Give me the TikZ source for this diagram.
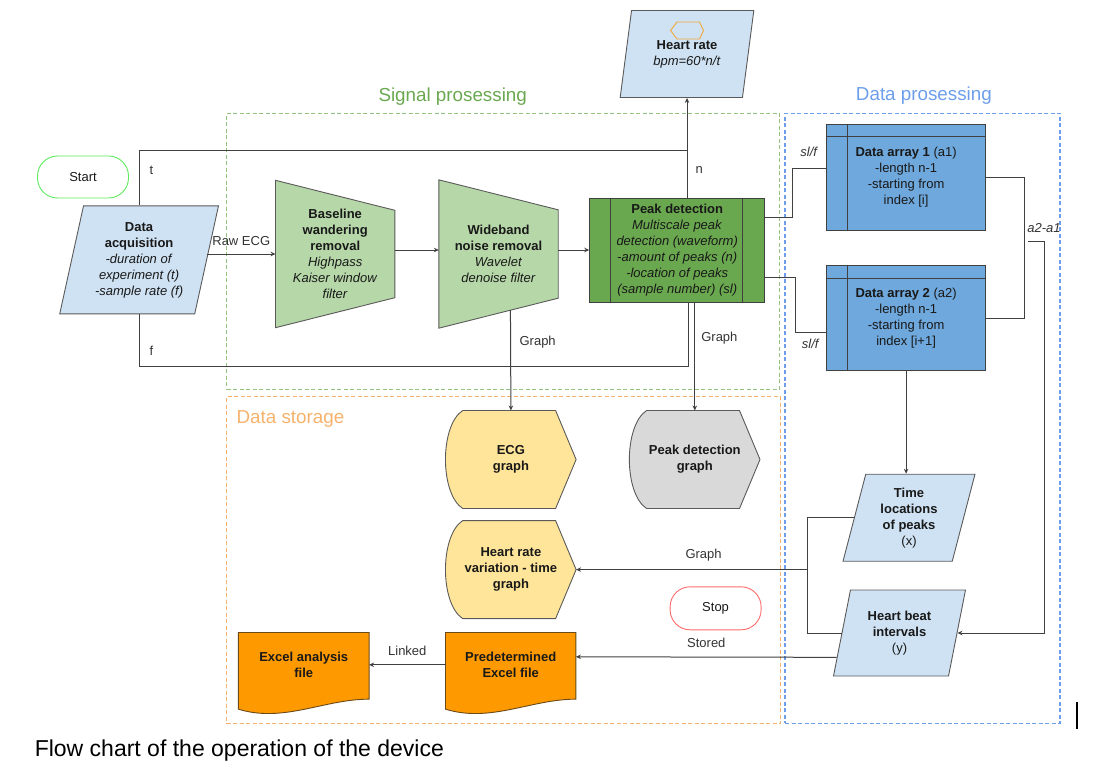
\documentclass[tikz,border=0pt]{standalone}
\usepackage{fontspec}
\setmainfont{Liberation Sans}
\usetikzlibrary{shapes.geometric,arrows.meta,calc,backgrounds}

\definecolor{lineg}{HTML}{404040}
\definecolor{shapeg}{HTML}{5A5A5A}
\definecolor{inblue}{HTML}{CFE2F3}
\definecolor{filtgreen}{HTML}{B6D7A8}
\definecolor{peakgreen}{HTML}{6AA84F}
\definecolor{arrblue}{HTML}{6FA8DC}
\definecolor{graphyel}{HTML}{FFE599}
\definecolor{graphgray}{HTML}{D9D9D9}
\definecolor{xlorange}{HTML}{FF9900}
\definecolor{xlline}{HTML}{6B4A1A}
\definecolor{sigcol}{HTML}{93C47D}
\definecolor{datcol}{HTML}{6D9EEB}
\definecolor{stocol}{HTML}{F6B26B}
\definecolor{hexorange}{HTML}{F1A93A}
\definecolor{startgreen}{HTML}{5EEB5E}
\definecolor{stopred}{HTML}{FF6B6B}

\tikzset{
  txt/.style={font=\fontsize{13pt}{16pt}\selectfont, text=black!90, align=center},
  io/.style={txt, trapezium, trapezium stretches=true, trapezium left angle=76, trapezium right angle=104,
    draw=shapeg, fill=inblue, line width=0.9pt, inner sep=0pt},
  procbox/.style={txt, rectangle, inner sep=0pt},
  term/.style={txt, rectangle, rounded corners=20pt, draw, line width=0.9pt, minimum width=91pt, minimum height=42pt},
  group/.style={rectangle, draw, dash pattern=on 4pt off 2.5pt, line width=1.1pt},
  grouptitle/.style={font=\fontsize{18.8pt}{22pt}\selectfont, inner sep=0pt},
  lbl/.style={txt, text=black!80, inner sep=1pt},
  conn/.style={draw=lineg, line width=1pt},
  arr/.style={conn, -{Stealth[length=5pt,width=4.5pt]}},
  shapeline/.style={draw=shapeg, line width=0.9pt},
}

\begin{document}
\begin{tikzpicture}[x=1pt,y=-1pt]
    \useasboundingbox (0,0) rectangle (1095,776);

    % groups
    \node[group, draw=sigcol, minimum width=553pt, minimum height=276pt] (sig) at (503.4,251.2) {};
    \node[group, draw=datcol, minimum width=275pt, minimum height=610pt] (dat) at (922.5,418.2) {};
    \node[group, draw=stocol, minimum width=554pt, minimum height=327pt] (sto) at (503.6,560) {};
    \node[grouptitle, text=peakgreen] (sigtitle) at (452.7,96.7) {Signal prosessing};
    \node[grouptitle, text=datcol] (dattitle) at (923.9,95.7) {Data prosessing};
    \node[grouptitle, text=stocol, anchor=west] (stotitle) at (236.4,419.3) {Data storage};

    \node[term, draw=startgreen] (start) at (83,177) {Start};
    \node[term, draw=stopred, minimum height=43pt] (stop) at (715.6,608.3) {Stop};

    \node[io, minimum width=159pt, minimum height=108pt] (acq) at (139.1,259.9)
        {\textbf{Data}\\\textbf{acquisition}\\\textit{-duration of}\\\textit{experiment (t)}\\\textit{-sample rate (f)}};
    \node[io, minimum width=134pt, minimum height=87pt] (hr) at (687,54)
        {\textbf{Heart rate}\\\textit{bpm=60*n/t}};
    \node[io, minimum width=133pt, minimum height=87pt] (tl) at (909,517.7)
        {\textbf{Time}\\\textbf{locations}\\\textbf{of peaks}\\(x)};
    \node[io, minimum width=133pt, minimum height=86pt] (hb) at (899.5,633)
        {\textbf{Heart beat}\\\textbf{intervals}\\(y)};

    \node[procbox, minimum width=119pt, minimum height=147pt] (bw) at (335.2,254)
        {\textbf{Baseline}\\\textbf{wandering}\\\textbf{removal}\\\textit{Highpass}\\\textit{Kaiser window}\\\textit{filter}};
    \node[procbox, minimum width=119pt, minimum height=148pt] (wb) at (498.5,254)
        {\textbf{Wideband}\\\textbf{noise removal}\\\textit{Wavelet}\\\textit{denoise filter}};
    \node[procbox, draw=lineg, fill=peakgreen, line width=0.9pt, minimum width=175pt, minimum height=104pt] (pk) at (677.2,250)
        {\textbf{Peak detection}\\\textit{Multiscale peak}\\\textit{detection (waveform)}\\\textit{-amount of peaks (n)}\\\textit{-location of peaks}\\\textit{(sample number) (sl)}};

    \node[procbox, draw=lineg, fill=arrblue, line width=0.9pt, minimum width=158.6pt, minimum height=105.7pt] (da1) at (906.1,177.2)
        {\textbf{Data array 1} (a1)\\-length n-1\\-starting from\\index [i]};
    \node[procbox, draw=lineg, fill=arrblue, line width=0.9pt, minimum width=158.6pt, minimum height=105pt] (da2) at (906.1,318.2)
        {\textbf{Data array 2} (a2)\\-length n-1\\-starting from\\index [i+1]};

    \node[procbox, minimum width=130pt, minimum height=97.6pt] (ecg) at (510.9,459.5) {\textbf{ECG}\\\textbf{graph}};
    \node[procbox, minimum width=130pt, minimum height=97.6pt] (pkg) at (694.8,459.5) {\textbf{Peak detection}\\\textbf{graph}};
    \node[procbox, minimum width=130pt, minimum height=97.6pt] (hrv) at (510.9,569.6) {\textbf{Heart rate}\\\textbf{variation - time}\\\textbf{graph}};

    \node[procbox, minimum width=130.3pt, minimum height=64.3pt] (xla) at (303.75,664.8) {\textbf{Excel analysis}\\\textbf{file}};
    \node[procbox, minimum width=130pt, minimum height=64.3pt] (xlp) at (510.7,664.8) {\textbf{Predetermined}\\\textbf{Excel file}};

    \begin{scope}[on background layer]
        \foreach \shp in {bw,wb}
            \draw[shapeline, fill=filtgreen] (\shp.north west) -- ($(\shp.north east)+(0,30)$)
                -- ($(\shp.south east)+(0,-30)$) -- (\shp.south west) -- cycle;
        \foreach \shp/\clr in {ecg/graphyel,hrv/graphyel,pkg/graphgray}
            \draw[shapeline, fill=\clr] ($(\shp.north west)+(17,0)$) -- ($(\shp.north east)+(-20.5,0)$) -- (\shp.east)
                -- ($(\shp.south east)+(-20.5,0)$) -- ($(\shp.south west)+(17,0)$)
                .. controls ($(\shp.south west)+(-6,-15)$) and ($(\shp.north west)+(-6,15)$) .. cycle;
        \foreach \shp in {xla,xlp}
            \draw[shapeline, draw=xlline, fill=xlorange] (\shp.north west) -- (\shp.north east) -- ($(\shp.south east)+(0,2)$)
                .. controls ($(\shp.south east)+(-45,2)$) and ($(\shp.south west)+(45,26)$) .. ($(\shp.south west)+(0,12)$) -- cycle;
    \end{scope}

    % inner lines
    \draw[lineg, line width=0.9pt] ($(pk.north west)+(21.5,0)$) -- ($(pk.south west)+(21.5,0)$);
    \draw[lineg, line width=0.9pt] ($(pk.north east)+(-23,0)$) -- ($(pk.south east)+(-23,0)$);
    \foreach \shp in {da1,da2} {
        \draw[lineg, line width=0.9pt] ($(\shp.north west)+(20.8,0)$) -- ($(\shp.south west)+(20.8,0)$);
        \draw[lineg, line width=0.9pt] ($(\shp.north west)+(0,13)$) -- ($(\shp.north east)+(0,13)$);
    }
    \draw[hexorange, line width=0.9pt] ($(hr.center)+(-16.5,-23.5)$) -- ($(hr.center)+(-10,-32)$) -- ($(hr.center)+(12.5,-32)$)
        -- ($(hr.center)+(16.5,-23.5)$) -- ($(hr.center)+(12.5,-15)$) -- ($(hr.center)+(-10,-15)$) -- cycle;

    \coordinate (tjoin) at (687,150);
    \coordinate (fjoin) at (688,366);
    \coordinate (wbr) at ($(wb.south east)+(0,-30)$);
    \coordinate (diff) at (1028,241);

    \path[conn] (acq.center |- acq.north) |- node[lbl, pos=0.32, right=9pt] {t} (tjoin);
    \path[conn] (acq.center |- acq.south) |- node[lbl, pos=0.35, right=9pt] {f} (fjoin) -- (fjoin |- pk.south);
    \path[arr] (acq.east |- bw.west) -- node[lbl, above=7pt] {Raw ECG} (bw.west);
    \path[arr] (bw.east |- pk.west) -- (wb.west |- pk.west);
    \path[arr] (wb.east |- pk.west) -- (pk.west);
    \path[arr] (hr.center |- pk.north) -- node[lbl, pos=0.28, right=7pt] {n} (hr.center |- hr.south);

    \path[conn] ($(pk.east)+(0,-33)$) -- ++(27,0) |- node[lbl, pos=0.75, above=10pt] {\textit{sl/f}} ($(da1.west)+(0,-9)$);
    \path[conn] ($(pk.east)+(0,27)$) -- ++(30,0) |- node[lbl, pos=0.75, below=5pt] {\textit{sl/f}} ($(da2.west)+(0,14)$);
    \path[conn] (da1.east) -- ++(39,0) |- node[lbl, pos=0.18, right=1pt] {\textit{a2-a1}} (da2.east);
    \path[arr] (diff) -- ++(16,0) |- (hb.east);
    \path[arr] (da2.south) -- (da2.south |- tl.north);

    \path[conn] (tl.west) -- ++(-46,0) coordinate (tjx) |- (hb.west);
    \path[arr] (tjx |- hrv.east) -- node[lbl, pos=0.45, above=7pt] {Graph} (hrv.east);
    \path[arr] ($(hb.bottom left corner)!0.22!(hb.top left corner)$) -- node[lbl, above=8pt] {Stored} ($(xlp.east)+(0,-8)$);
    \path[arr] (xlp.west) -- node[lbl, above=8pt] {Linked} (xla.east);

    \path[arr] ($(wb.south west)!0.6!(wbr)$) -- node[lbl, pos=0.32, right=7.5pt] {Graph} (ecg.north);
    \path[arr] (pkg.north |- pk.south) -- node[lbl, pos=0.33, right=5pt] {Graph} (pkg.north);

    \draw[line width=1.6pt] (1077,702) -- (1077,729);
    \node[font=\fontsize{23pt}{27pt}\selectfont, anchor=base west, inner sep=0pt] (caption) at (34.6,756.7)
        {Flow chart of the operation of the device};
\end{tikzpicture}
\end{document}
